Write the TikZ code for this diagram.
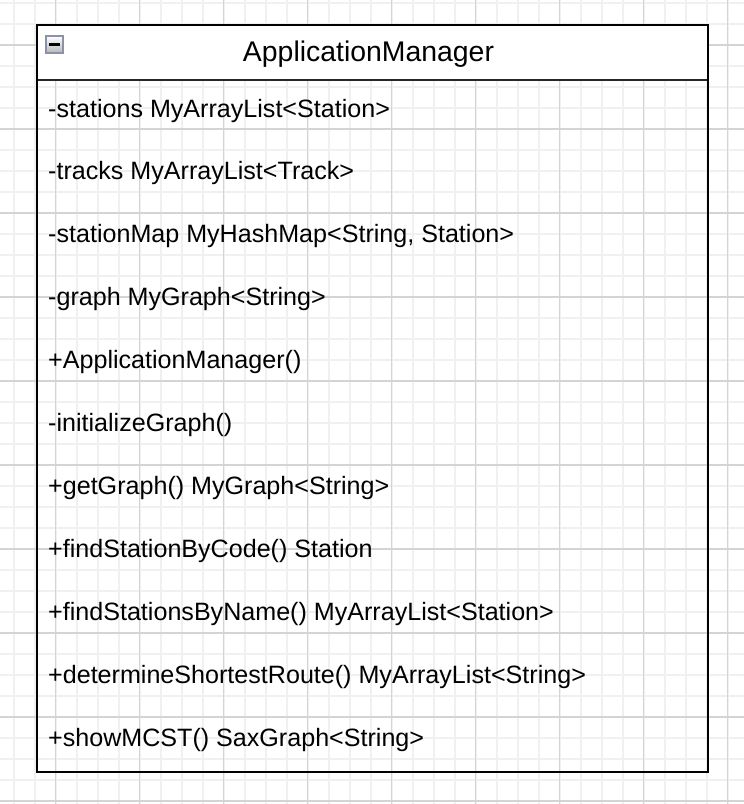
\documentclass[tikz,border=0pt]{standalone}
\usepackage{fontspec}
\setmainfont{Liberation Sans}
\definecolor{gridminor}{HTML}{F0F0F0}
\definecolor{gridmajor}{HTML}{D4D4D4}
\definecolor{iconborder}{HTML}{8A93A5}
\tikzset{
  attr/.style={anchor=base west, inner sep=0pt, font=\fontsize{25.1}{29}\selectfont},
  titletext/.style={anchor=base, inner sep=0pt, font=\fontsize{28.4}{34}\selectfont},
  boxline/.style={line width=2pt, black},
}
\begin{document}
\begin{tikzpicture}[x=1pt, y=-1pt]
\useasboundingbox (0,0) rectangle (744,804);
\fill[white] (0,0) rectangle (744,804);
% grid
\foreach \i in {0,...,35} {
  \draw[gridminor, line width=1.6pt] ({13.7+21*\i},0) -- ({13.7+21*\i},804);
}
\foreach \i in {0,...,38} {
  \draw[gridminor, line width=1.6pt] (0,{3+21*\i}) -- (744,{3+21*\i});
}
\foreach \i in {0,...,8} {
  \draw[gridmajor, line width=1.4pt] ({55.7+84*\i},0) -- ({55.7+84*\i},804);
}
\foreach \i in {0,...,9} {
  \draw[gridmajor, line width=1.4pt] (0,{45+84*\i}) -- (744,{45+84*\i});
}
% class box
\coordinate (tl) at (36.5,25.3);
\coordinate (hr) at (708.3,80);
\coordinate (hl) at (36.5,80);
\coordinate (br) at (708.3,772.3);
\fill[white] (tl) rectangle (hr);
\draw[line width=1.6pt, black!85] (hl) -- (hr);
\draw[boxline] (tl) rectangle (br);
% collapse icon
\node[draw=iconborder, line width=1.8pt, top color=white, bottom color=black!28,
      minimum width=16.5pt, minimum height=16.5pt, inner sep=0pt, anchor=north west] (icon) at (45.2,35.2) {};
\draw[line width=2.6pt, black] ([xshift=-5.5pt]icon.center) -- ([xshift=5.5pt]icon.center);
% title
\node[titletext] (title) at (368.5,61.7) {ApplicationManager};
% members
\node[attr] (m1) at (48,117) {-stations MyArrayList<Station>};
\node[attr] (m2) at (48,179.9) {-tracks MyArrayList<Track>};
\node[attr] (m3) at (48,242.8) {-stationMap MyHashMap<String, Station>};
\node[attr] (m4) at (48,305.7) {-graph MyGraph<String>};
\node[attr] (m5) at (48,368.6) {+ApplicationManager()};
\node[attr] (m6) at (48,431.5) {-initializeGraph()};
\node[attr] (m7) at (48,494.4) {+getGraph() MyGraph<String>};
\node[attr] (m8) at (48,557.3) {+findStationByCode() Station};
\node[attr] (m9) at (48,620.2) {+findStationsByName() MyArrayList<Station>};
\node[attr] (m10) at (48,683.1) {+determineShortestRoute() MyArrayList<String>};
\node[attr] (m11) at (48,746) {+showMCST() SaxGraph<String>};
\end{tikzpicture}
\end{document}
